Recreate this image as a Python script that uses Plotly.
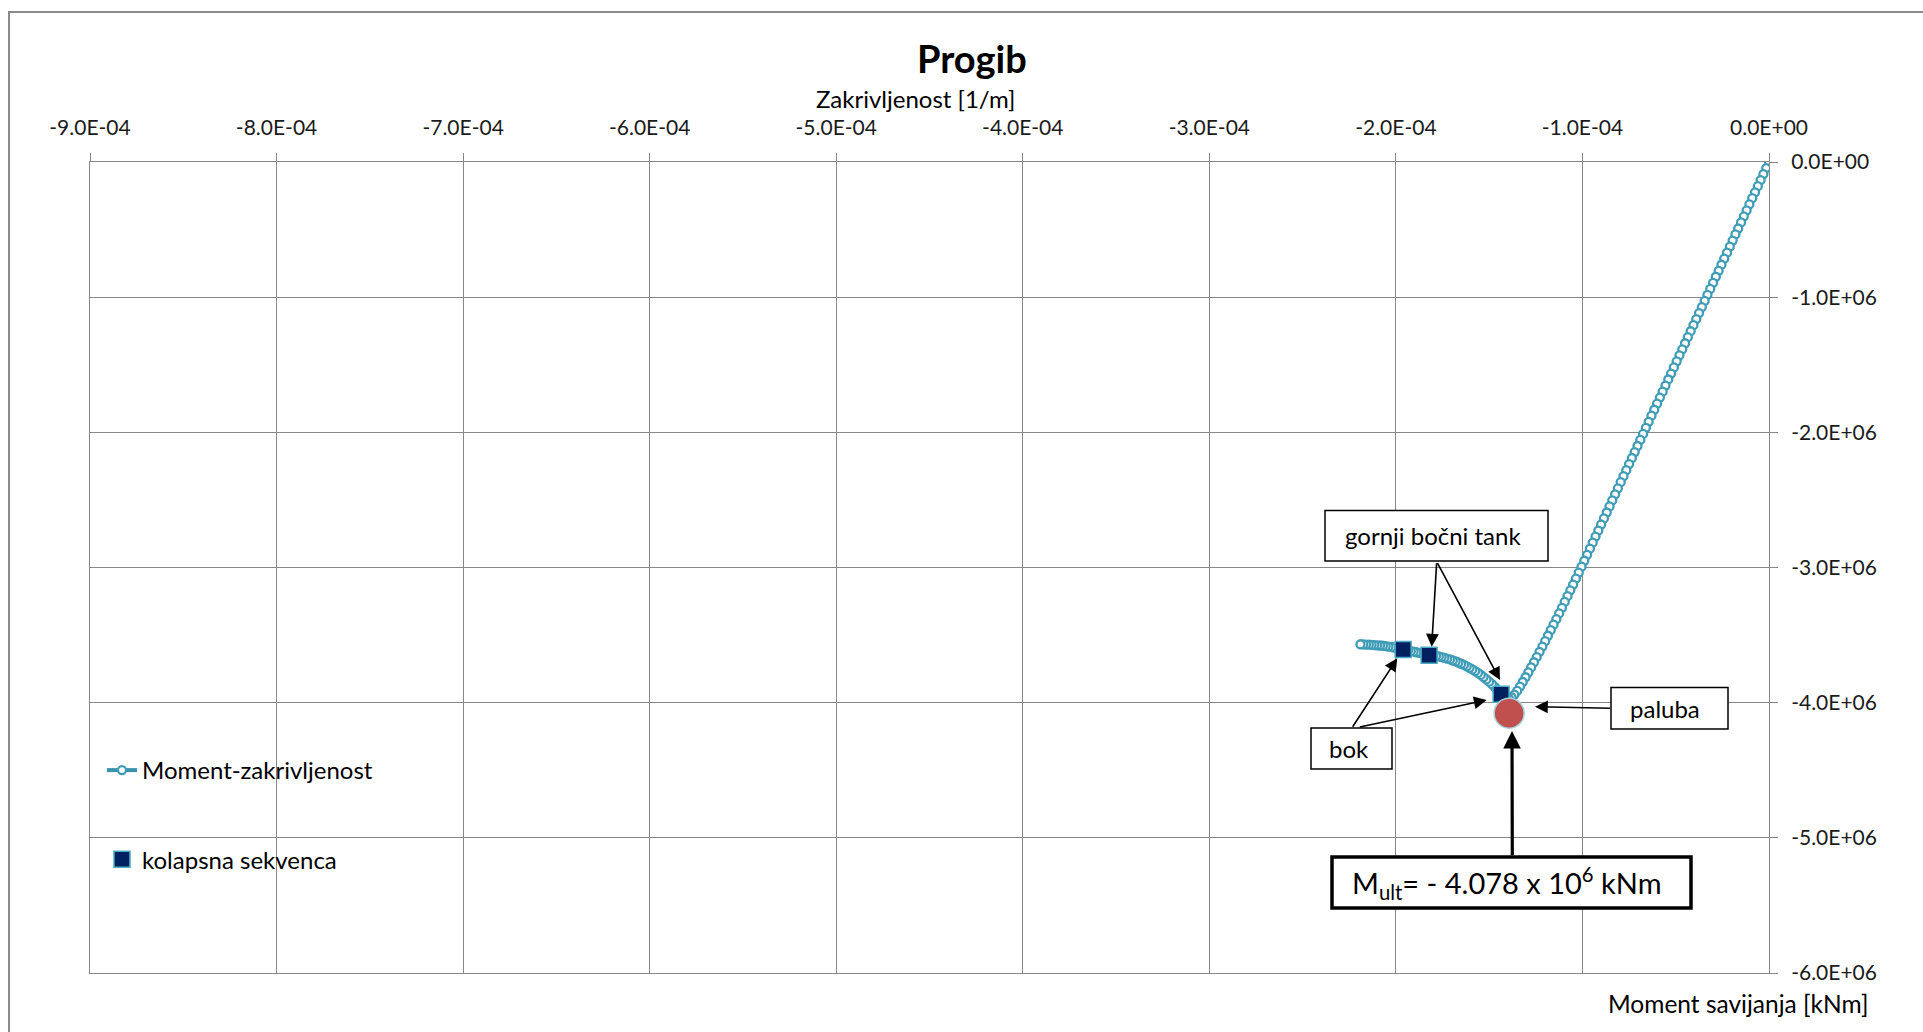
import plotly.graph_objects as go

# ---------------- data (curvature in 1e-6 1/m, moment in 1e3 kNm) ----------------
kappa_micro = [
    0, -1.5, -3, -4.5, -6, -7.5, -9, -10.5, -12, -13.5,
    -15, -16.5, -18, -19.5, -21, -22.5, -24, -25.5, -27, -28.5,
    -30, -31.5, -33, -34.5, -36, -37.5, -39, -40.5, -42, -43.5,
    -45, -46.5, -48, -49.5, -51, -52.5, -54, -55.5, -57, -58.5,
    -60, -61.5, -63, -64.5, -66, -67.5, -69, -70.5, -72, -73.5,
    -75, -76.5, -78, -79.5, -81, -82.5, -84, -85.5, -87, -88.5,
    -90, -91.5, -93, -94.5, -96, -97.5, -99, -100.5, -102, -103.5,
    -105, -106.5, -108, -109.5, -111, -112.5, -114, -115.5, -117, -118.5,
    -120, -121.5, -123, -124.5, -126, -127.5, -129, -130.5, -132, -133.5,
    -135, -136.5,
    -138, -139.5, -141, -142.5, -144, -145.5, -147, -148.5, -150, -151.5,
    -153, -154.5, -156, -157.5, -159, -160.5, -162, -163.5, -165, -166.5,
    -168, -169.5, -171, -172.5, -174, -175.5, -177, -178.5, -180, -181.5,
    -183, -184.5, -186, -187.5, -189, -190.5, -192, -193.5, -195, -196.5,
    -198, -199.5, -201, -202.5, -204, -205.5, -207, -208.5, -210, -211.5,
    -213, -214.5, -216, -217.5, -219,
]
moment_k = [
    0, -45, -89, -134, -179, -224, -268, -313, -358, -402,
    -447, -492, -536, -581, -626, -671, -715, -760, -805, -849,
    -894, -939, -983, -1028, -1073, -1118, -1162, -1207, -1252, -1296,
    -1341, -1386, -1430, -1475, -1520, -1565, -1609, -1654, -1699, -1743,
    -1788, -1833, -1877, -1922, -1967, -2012, -2056, -2101, -2146, -2190,
    -2235, -2280, -2324, -2369, -2414, -2459, -2503, -2548, -2593, -2637,
    -2682, -2727, -2771, -2816, -2861, -2906, -2950, -2994, -3038, -3082,
    -3126, -3169, -3212, -3255, -3298, -3340, -3382, -3423, -3464, -3505,
    -3545, -3585, -3624, -3663, -3701, -3739, -3776, -3812, -3847, -3881,
    -3913, -3941,
    -3960, -3968, -3962, -3948, -3928, -3906, -3884, -3863, -3845, -3828,
    -3811, -3795, -3780, -3766, -3754, -3742, -3731, -3721, -3712, -3703,
    -3695, -3688, -3680, -3674, -3668, -3663, -3658, -3654, -3650, -3646,
    -3642, -3638, -3635, -3631, -3627, -3623, -3619, -3615, -3610, -3605,
    -3601, -3597, -3592, -3588, -3585, -3582, -3579, -3577, -3576, -3574,
    -3573, -3571, -3570, -3569, -3568,
]
collapse_kappa_micro = [-196.1, -182.2, -143.6]
collapse_moment_k = [-3607, -3649, -3938]
ult_kappa_micro = [-139.3]
ult_moment_k = [-4078]

x_tickvals = [-9e-4, -8e-4, -7e-4, -6e-4, -5e-4, -4e-4, -3e-4, -2e-4, -1e-4, 0]
x_ticktext = ["-9.0E-04", "-8.0E-04", "-7.0E-04", "-6.0E-04", "-5.0E-04",
              "-4.0E-04", "-3.0E-04", "-2.0E-04", "-1.0E-04", "0.0E+00"]
y_tickvals = [0, -1e6, -2e6, -3e6, -4e6, -5e6, -6e6]
y_ticktext = ["0.0E+00", "-1.0E+06", "-2.0E+06", "-3.0E+06", "-4.0E+06",
              "-5.0E+06", "-6.0E+06"]

kappa = [k * 1e-6 for k in kappa_micro]
moment = [m * 1e3 for m in moment_k]
collapse_kappa = [k * 1e-6 for k in collapse_kappa_micro]
collapse_moment = [m * 1e3 for m in collapse_moment_k]
ult_kappa = [k * 1e-6 for k in ult_kappa_micro]
ult_moment = [m * 1e3 for m in ult_moment_k]

# ---------------- styling ----------------
FONT = "Lato, Carlito, Calibri, sans-serif"
TEAL = "#3f9cb6"
TEAL_LINE = "#3a93ab"
NAVY = "#002060"
RED = "#c0504d"
GRID = "#878787"

W, H = 1923, 1032
PX0, PX1 = 90, 1769      # plot area left/right in pixels
PY0, PY1 = 162, 973      # plot area top/bottom in pixels
XMIN, XMAX = -9e-4, 0.0
YMIN, YMAX = -6e6, 0.0


def dx(p):  # pixel -> data x
    return XMIN + (p - PX0) / (PX1 - PX0) * (XMAX - XMIN)


def dy(p):  # pixel -> data y
    return YMAX - (p - PY0) / (PY1 - PY0) * (YMAX - YMIN)


def paper_x(p):
    return (p - PX0) / (PX1 - PX0)


def paper_y(p):
    return (PY1 - p) / (PY1 - PY0)


fig = go.Figure()
fig.add_trace(go.Scatter(
    x=kappa, y=moment, mode="lines+markers", name="Moment-zakrivljenost",
    legendgroup="a",
    line=dict(color=TEAL_LINE, width=4),
    marker=dict(symbol="circle", size=8, color="white",
                line=dict(color=TEAL, width=2.3)),
))
fig.add_trace(go.Scatter(
    x=collapse_kappa, y=collapse_moment, mode="markers", name="kolapsna sekvenca",
    legendgroup="b",
    marker=dict(symbol="square", size=16, color=NAVY,
                line=dict(color="#4bacc6", width=1.5)),
))
fig.add_trace(go.Scatter(
    x=ult_kappa, y=ult_moment, mode="markers", name="M_ult", showlegend=False,
    marker=dict(symbol="circle", size=30, color=RED,
                line=dict(color="#a6d0e0", width=1.5)),
))

axis_common = dict(
    showgrid=True, gridcolor=GRID, gridwidth=1,
    showline=True, linecolor=GRID, linewidth=1, mirror=True,
    zeroline=False, ticks="outside", ticklen=8, tickcolor=GRID, tickwidth=1,
    tickfont=dict(family=FONT, size=21, color="#1a1a1a"),
    automargin=False, fixedrange=True,
)

fig.update_layout(
    width=W, height=H,
    margin=dict(l=PX0, r=W - PX1, t=PY0, b=H - PY1, pad=0),
    paper_bgcolor="white", plot_bgcolor="white",
    font=dict(family=FONT, color="black"),
    xaxis=dict(range=[XMIN, XMAX], side="top", tickmode="array",
               tickvals=x_tickvals, ticktext=x_ticktext,
               ticklabelstandoff=10, **axis_common),
    yaxis=dict(range=[YMIN, YMAX], side="right", tickmode="array",
               tickvals=y_tickvals, ticktext=y_ticktext,
               ticklabelstandoff=9, **axis_common),
    showlegend=True,
    legend=dict(x=paper_x(102), y=paper_y(748), xanchor="left", yanchor="top",
                bgcolor="rgba(0,0,0,0)", borderwidth=0,
                font=dict(family=FONT, size=24, color="black"),
                tracegroupgap=55, itemwidth=30),
)

annotations = [
    dict(text="<b>Progib</b>", xref="paper", yref="paper",
         x=paper_x(972), y=paper_y(58), xanchor="center", yanchor="middle",
         showarrow=False, font=dict(family=FONT, size=38, color="black")),
    dict(text="Zakrivljenost [1/m]", xref="paper", yref="paper",
         x=paper_x(915), y=paper_y(98), xanchor="center", yanchor="middle",
         showarrow=False, font=dict(family=FONT, size=24, color="black")),
    dict(text="Moment savijanja [kNm]", xref="paper", yref="paper",
         x=paper_x(1870), y=paper_y(1003), xanchor="right", yanchor="middle",
         showarrow=False, font=dict(family=FONT, size=24.5, color="black")),
]

# arrows (tail pixel -> head pixel)
arrow_defs = [
    ((1436.7, 561.7), (1431.7, 646.7), 1.6),
    ((1436.7, 561.7), (1500.0, 680.0), 1.6),
    ((1351.7, 728.3), (1397.3, 658.3), 1.6),
    ((1358.3, 727.3), (1486.7, 700.0), 1.6),
    ((1611.7, 708.3), (1535.0, 706.7), 1.6),
    ((1512.3, 856.7), (1512.0, 731.0), 3.2),
]
for (tx, ty), (hx, hy), wdt in arrow_defs:
    annotations.append(dict(
        x=dx(hx), y=dy(hy), ax=dx(tx), ay=dy(ty), xref="x", yref="y",
        axref="x", ayref="y", text="", showarrow=True, arrowhead=2,
        arrowsize=1.6 if wdt < 2 else 1.1, arrowwidth=wdt, arrowcolor="black",
        standoff=0, startstandoff=0,
    ))

# labelled boxes: (text, box px x0, x1, y0, y1, border width, font size, text x-shift)
box_defs = [
    ("gornji bočni tank", 1325, 1548, 510.5, 561, 1.5, 24, -4),
    ("bok", 1311, 1392, 728, 769, 1.5, 24, -3),
    ("paluba", 1611, 1728, 687.5, 729, 1.5, 24, -5),
    ("M<sub>ult</sub>= - 4.078 x 10<sup>6</sup> kNm", 1332, 1691, 857, 908, 3.5, 29, -5),
]
shapes = []
for txt, x0, x1, y0, y1, bwid, fs, sh in box_defs:
    shapes.append(dict(
        type="rect", xref="x", yref="y", x0=dx(x0), x1=dx(x1), y0=dy(y1), y1=dy(y0),
        fillcolor="white", line=dict(color="black", width=bwid), layer="above",
    ))
    annotations.append(dict(
        text=txt, x=dx((x0 + x1) / 2), y=dy((y0 + y1) / 2), xref="x", yref="y",
        xanchor="center", yanchor="middle", showarrow=False, xshift=sh,
        font=dict(family=FONT, size=fs, color="black"),
    ))

# outer chart frame (only top/left visible in the crop)
shapes.append(dict(type="rect", xref="paper", yref="paper",
                   x0=paper_x(9), y0=paper_y(1200), x1=paper_x(2100), y1=paper_y(12),
                   line=dict(color="#8a8a8a", width=2), fillcolor="rgba(0,0,0,0)",
                   layer="below"))

fig.update_layout(annotations=annotations, shapes=shapes)

fig.write_html("out.html", config={"displayModeBar": False},
               post_script="document.body.style.margin='0';document.body.style.overflow='hidden';")
